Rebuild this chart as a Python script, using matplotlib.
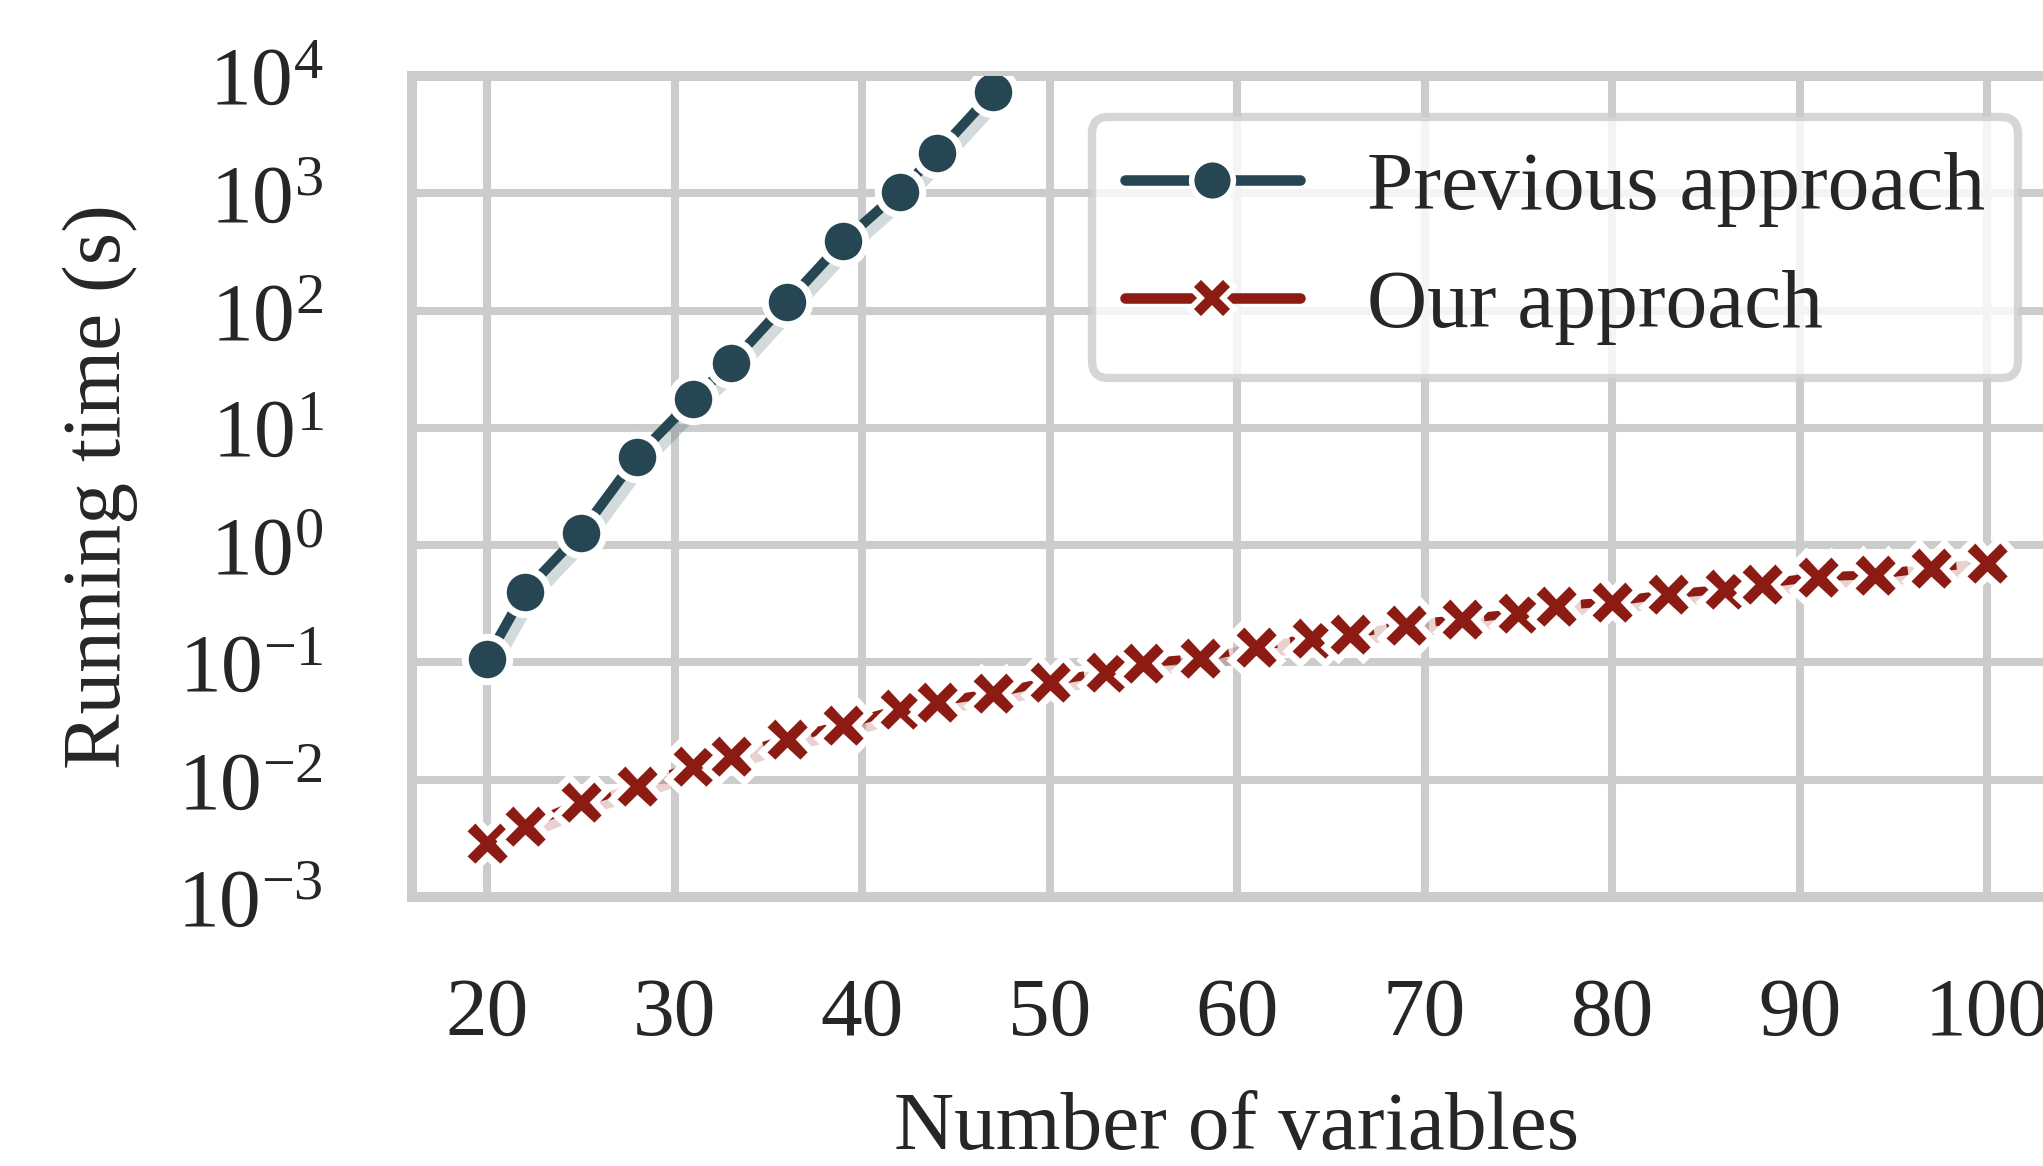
import matplotlib
matplotlib.use("Agg")
import matplotlib.pyplot as plt
from matplotlib.lines import Line2D
from matplotlib.transforms import offset_copy

plt.rcParams['font.family'] = ['Liberation Serif', 'DejaVu Serif']
plt.rcParams['mathtext.fontset'] = 'stix'
plt.rcParams['font.size'] = 30
plt.rcParams['text.color'] = '#262626'
plt.rcParams['axes.labelcolor'] = '#262626'
plt.rcParams['xtick.color'] = '#262626'
plt.rcParams['ytick.color'] = '#262626'

# data
prev_n = [20, 22, 25, 28, 31, 33, 36, 39, 42, 44, 47]
prev_time = [0.108, 0.40, 1.28, 5.7, 17.7, 35.4, 118, 390, 1035, 2200, 7330]

ours_n = [20, 22, 25, 28, 31, 33, 36, 39, 42, 44,
          47, 50, 53, 55, 58, 61, 64, 66, 69, 72,
          75, 77, 80, 83, 86, 88, 91, 94, 97, 100]
ours_time = [0.0029, 0.0040, 0.0064, 0.0088, 0.0130, 0.0158, 0.0223, 0.0294, 0.040, 0.0464,
             0.0547, 0.0687, 0.0826, 0.0986, 0.109, 0.1365, 0.161, 0.174, 0.209, 0.234,
             0.263, 0.303, 0.330, 0.382, 0.421, 0.467, 0.539, 0.557, 0.643, 0.710]

prev_color = '#264653'
ours_color = '#8c1c13'
grid_color = '#cccccc'

fig = plt.figure(figsize=(10.215, 5.83), dpi=200)
ax = fig.add_axes([0.2017, 0.2307, 0.8076, 0.7041])

# faint band under each line
band = offset_copy(ax.transData, fig=fig, x=1.5, y=-1.5, units='points')
ax.plot(prev_n, prev_time, color=prev_color, alpha=0.2, lw=7, transform=band, zorder=2)
ax.plot(ours_n, ours_time, color=ours_color, alpha=0.2, lw=6, transform=band, zorder=2)

ax.plot(prev_n, prev_time, color=prev_color, lw=3.6, marker='o', ms=16,
        mfc=prev_color, mec='white', mew=2.5, zorder=3)
ax.plot(ours_n, ours_time, color=ours_color, lw=3.2, dashes=(4, 1.5), marker='X', ms=18,
        mfc=ours_color, mec='white', mew=2.5, zorder=3)

ax.set_yscale('log')
ax.set_ylim(1e-3, 1e4)
ax.set_xlim(16, 104)
ax.set_xticks([20, 30, 40, 50, 60, 70, 80, 90, 100])
ax.set_yticks([1e-3, 1e-2, 1e-1, 1e0, 1e1, 1e2, 1e3, 1e4])
ax.minorticks_off()

ax.grid(True, color=grid_color, lw=2.9, zorder=0)
ax.set_axisbelow(True)
for s in ax.spines.values():
    s.set_color(grid_color)
    s.set_linewidth(3.6)

ax.tick_params(axis='x', length=0, pad=29, labelsize=30)
ax.tick_params(axis='y', length=0, pad=32, labelsize=30)

ax.set_xlabel('Number of variables', fontsize=30, labelpad=14)
ax.set_ylabel('Running time (s)', fontsize=30, labelpad=14)

handles = [
    Line2D([], [], color=prev_color, lw=3.8, marker='o', ms=15, mfc=prev_color,
           mec='white', mew=2, solid_capstyle='round'),
    Line2D([], [], color=ours_color, lw=3.8, marker='X', ms=16, mfc=ours_color,
           mec='white', mew=2, solid_capstyle='round'),
]
leg = ax.legend(handles, ['Previous approach', 'Our approach'], loc='upper right',
                bbox_to_anchor=(2018 / 2043, 1 - 117 / 1166), bbox_transform=fig.transFigure,
                borderaxespad=0, fontsize=30, handlelength=2.1, handletextpad=0.8,
                framealpha=0.8, edgecolor=grid_color, fancybox=True)
leg.get_frame().set_linewidth(3)

fig.savefig('out.png', dpi=200)
